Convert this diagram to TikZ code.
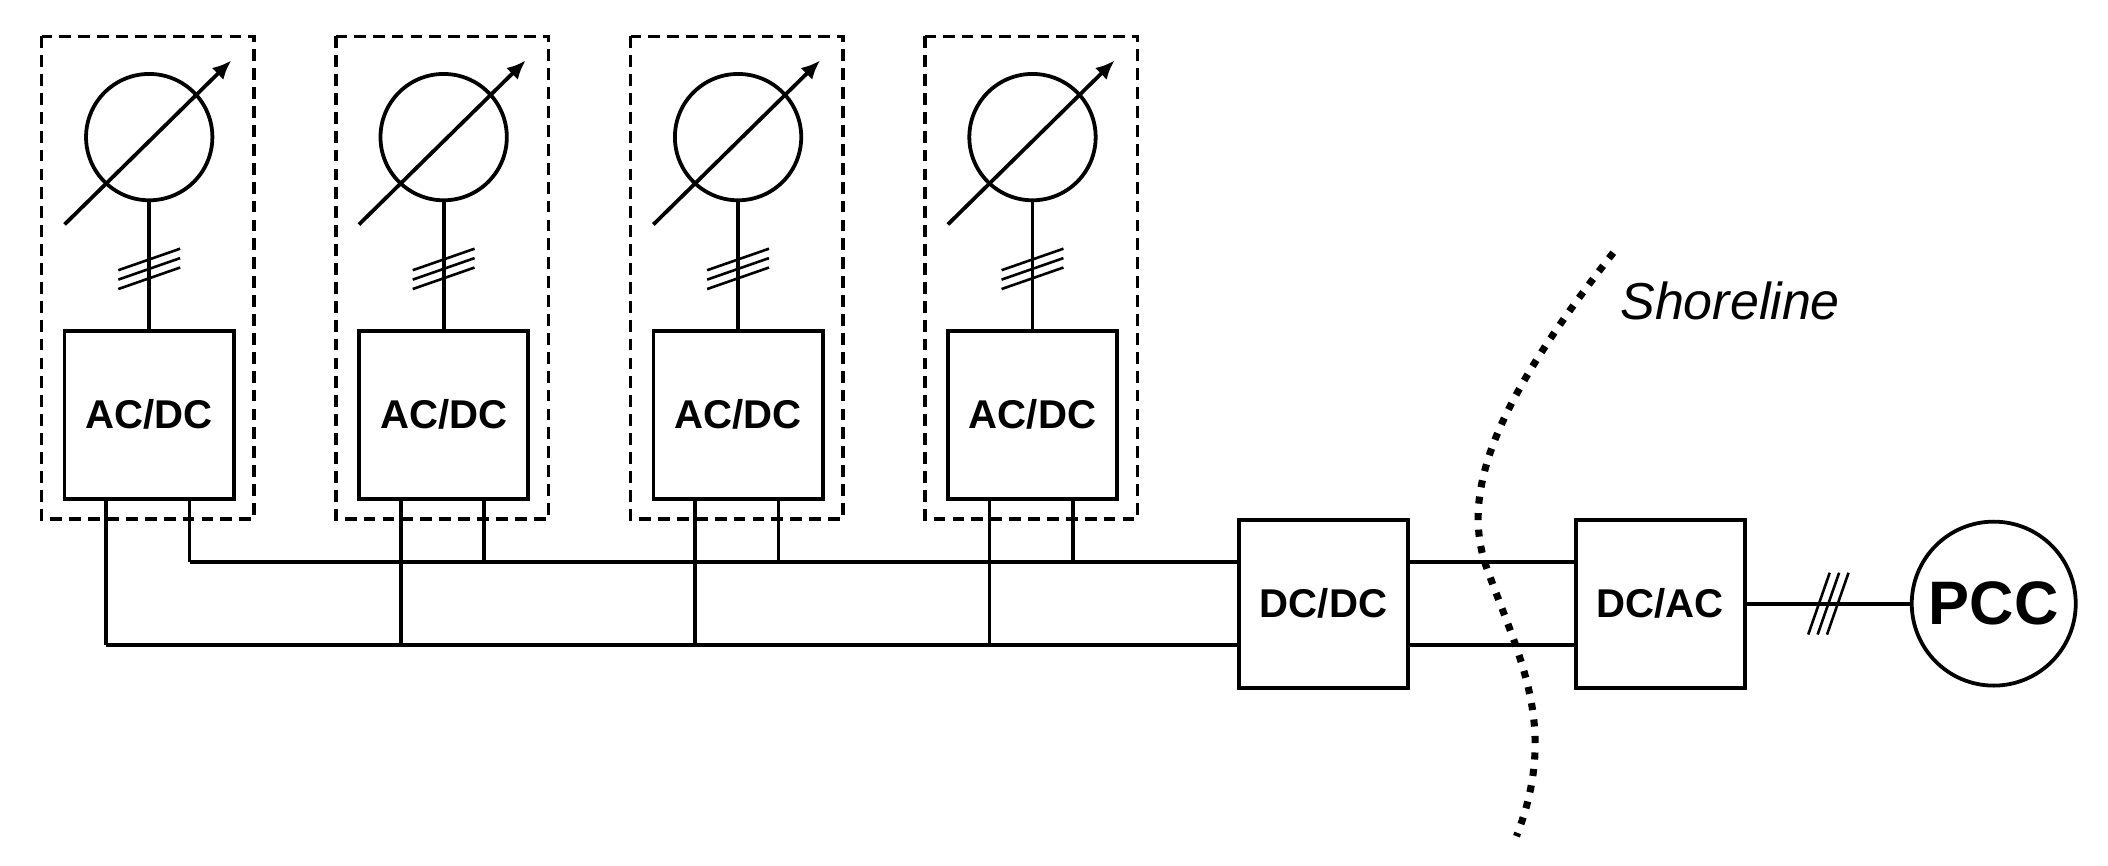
\documentclass[tikz,border=0pt]{standalone}
\usepackage{fontspec}
\setmainfont{Liberation Sans}
\usetikzlibrary{arrows.meta}
\begin{document}
\begin{tikzpicture}[x=0.02cm,y=-0.02cm,line width=1.6pt,
  conv/.style={draw,minimum width=2.52cm,minimum height=2.5cm,font=\bfseries\fontsize{17}{20}\selectfont,inner sep=0pt},
  dbox/.style={draw,dashed,line width=1.4pt,dash pattern=on 5pt off 3pt},
  src/.style={draw,circle,minimum size=1.88cm,inner sep=0pt},
  bus/.style={line width=1.6pt}]
\useasboundingbox (0,0) rectangle (1568,644);
\foreach \i in {0,1,2,3}{
  \pgfmathsetmacro{\dx}{219*\i}
  \begin{scope}[xshift=\dx*0.02cm]
    \draw[dbox] (31,27) rectangle (189,386);
    \node[src] (g\i) at (111,102) {};
    \draw[-{Latex[length=8pt,width=7pt]}] (48,167) -- (172,45);
    \node[conv] (c\i) at (111,308.5) {AC/DC};
    \draw (g\i.south) -- (c\i.north);
    \foreach \s in {-7,0,7} \draw[line width=1.1pt] (88,200+\s+8) -- (134,200+\s-8);
    \coordinate (l\i) at (79,480);
    \coordinate (r\i) at (141,418);
    \draw (79,371) -- (l\i);
    \draw (141,371) -- (r\i);
  \end{scope}
}
\node[conv] (dd) at (984.5,449) {DC/DC};
\node[conv] (da) at (1235,449) {DC/AC};
\node[draw,circle,minimum size=2.44cm,inner sep=0pt,font=\bfseries\fontsize{26}{30}\selectfont] (pcc) at (1483,449) {PCC};
\draw (r0) -- (dd.west |- r0);
\draw (l0) -- (dd.west |- l0);
\draw (dd.east |- r0) -- (da.west |- r0);
\draw (dd.east |- l0) -- (da.west |- l0);
\draw (da.east) -- (pcc.west);
\foreach \s in {-7,0,7} \draw[line width=1.1pt] (1352+\s,472) -- (1368+\s,426);
\draw[line width=3pt,dash pattern=on 3pt off 4pt] (1200,188) .. controls (1120,290) and (1085,360) .. (1105,420) .. controls (1130,490) and (1160,540) .. (1128,622);
\node[anchor=west,font=\itshape\fontsize{22}{26}\selectfont] (sh) at (1198,224) {Shoreline};
\end{tikzpicture}
\end{document}
